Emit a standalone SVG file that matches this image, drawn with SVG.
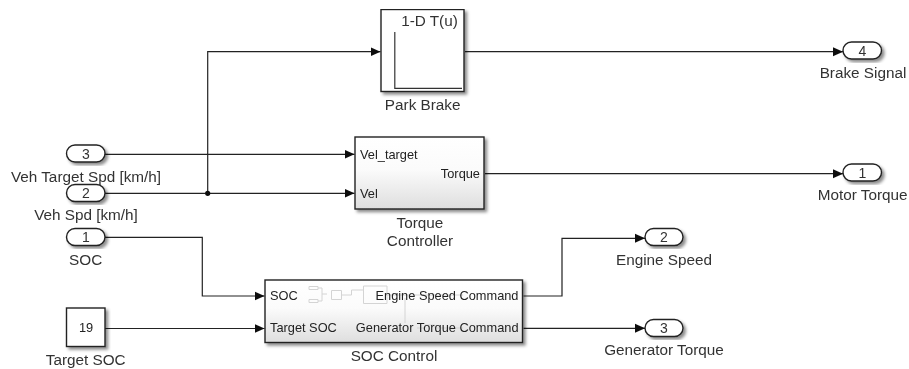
<svg xmlns="http://www.w3.org/2000/svg" width="909" height="369" viewBox="0 0 909 369">
<style>
.blk{stroke:#222;stroke-width:1.4;filter:url(#sh)}
.w{fill:#fff}
.lab{font-family:"Liberation Sans",Arial,sans-serif;font-size:15.3px;fill:#333;text-anchor:middle}
.num{font-family:"Liberation Sans",Arial,sans-serif;font-size:14px;fill:#333;text-anchor:middle}
.port{font-family:"Liberation Sans",Arial,sans-serif;font-size:12.8px;fill:#222}
.end{text-anchor:end}
.wire{fill:none;stroke:#222;stroke-width:1.2}
.thumb{fill:none;stroke:#d4d4d4;stroke-width:1}
</style>
<defs>
<linearGradient id="g" x1="0" y1="0" x2="0" y2="1"><stop offset="0" stop-color="#fff"/><stop offset="0.45" stop-color="#fbfbfb"/><stop offset="1" stop-color="#dedede"/></linearGradient>
<filter id="sh" x="-10%" y="-10%" width="125%" height="130%"><feDropShadow dx="2.5" dy="2.5" stdDeviation="1.6" flood-color="#000" flood-opacity="0.45"/></filter>
<filter id="soft" x="0" y="0" width="100%" height="100%"><feGaussianBlur stdDeviation="0.45"/></filter>
<marker id="a" markerUnits="userSpaceOnUse" markerWidth="11" markerHeight="10" refX="10" refY="5" orient="auto"><path d="M0 0.500L10 5L0 9.500Z" fill="#111"/></marker>
</defs>
<rect width="909" height="369" fill="#fff"/>
<g filter="url(#soft)">
<g id="connectors">
<path class="wire" d="M105 154.3H354.500" marker-end="url(#a)"/>
<path class="wire" d="M105 193.3H354.500" marker-end="url(#a)"/>
<path class="wire" d="M207.7 193.3V51.7H380.5" marker-end="url(#a)"/>
<circle cx="207.7" cy="193.3" r="2.6" fill="#111"/>
<path class="wire" d="M105 237.3H202.3V296H264.5" marker-end="url(#a)"/>
<path class="wire" d="M105 328.500H264.5" marker-end="url(#a)"/>
<path class="wire" d="M465 51.7H843" marker-end="url(#a)"/>
<path class="wire" d="M485 173.7H843" marker-end="url(#a)"/>
<path class="wire" d="M523.5 296H562V238.3H645" marker-end="url(#a)"/>
<path class="wire" d="M523.5 328.3H645" marker-end="url(#a)"/>
</g>
<g id="park-brake">
<rect class="blk w" x="381" y="9.500" width="83" height="82"/>
<path fill="none" stroke="#333" stroke-width="1.2" d="M394.800 32V88.300H462"/>
<text class="lab" x="429.500" y="25.500">1-D T(u)</text>
<text class="lab" x="422.700" y="110">Park Brake</text>
</g>
<g id="torque-controller">
<rect class="blk" fill="url(#g)" x="355" y="137" width="129" height="72"/>
<text class="port" x="360" y="158.500">Vel_target</text>
<text class="port" x="360" y="197.500">Vel</text>
<text class="port end" x="480" y="178">Torque</text>
<text class="lab" x="420" y="227.500">Torque</text>
<text class="lab" x="420" y="245.500">Controller</text>
</g>
<g id="soc-control">
<rect class="blk" fill="url(#g)" x="265" y="280" width="257.500" height="62.500"/>
<path class="thumb" d="M309 286.500h9v3h-9zM309 299.500h9v3h-9zM318 288h4v6h5M318 301h4v-7M331.500 290.500h10v9h-10zM341.500 295h10v-5h11.500M363.500 286h23.500v17.500h-23.500zM405 298v25M417 328h8v-3h10v3h28M387 295h76"/>
<text class="port" x="270" y="300">SOC</text>
<text class="port" x="270" y="332">Target SOC</text>
<text class="port end" x="518.500" y="300">Engine Speed Command</text>
<text class="port end" x="518.500" y="332">Generator Torque Command</text>
<text class="lab" x="394" y="361">SOC Control</text>
</g>
<g id="in-3">
<rect class="blk w" x="66.500" y="145" width="38.500" height="17" rx="8.500"/>
<text class="num" x="86" y="158.500">3</text>
<text class="lab" x="86" y="182">Veh Target Spd [km/h]</text>
</g>
<g id="in-2">
<rect class="blk w" x="66.500" y="184.500" width="38.500" height="17" rx="8.500"/>
<text class="num" x="86" y="198">2</text>
<text class="lab" x="86" y="220">Veh Spd [km/h]</text>
</g>
<g id="in-1">
<rect class="blk w" x="66.500" y="228.500" width="38.500" height="17" rx="8.500"/>
<text class="num" x="86" y="242">1</text>
<text class="lab" x="85.700" y="265">SOC</text>
</g>
<g id="target-soc">
<rect class="blk w" x="66.500" y="308" width="38.500" height="38.500"/>
<text class="port" x="86" y="332" text-anchor="middle">19</text>
<text class="lab" x="85.700" y="365">Target SOC</text>
</g>
<g id="out-4">
<rect class="blk w" x="843" y="42" width="38.500" height="17" rx="8.500"/>
<text class="num" x="862.500" y="55.500">4</text>
<text class="lab" x="863" y="78">Brake Signal</text>
</g>
<g id="out-1">
<rect class="blk w" x="843" y="164" width="38.500" height="17" rx="8.500"/>
<text class="num" x="862.500" y="177.500">1</text>
<text class="lab" x="862.700" y="200">Motor Torque</text>
</g>
<g id="out-2">
<rect class="blk w" x="645" y="228.500" width="38" height="17" rx="8.500"/>
<text class="num" x="664" y="242">2</text>
<text class="lab" x="664" y="265">Engine Speed</text>
</g>
<g id="out-3">
<rect class="blk w" x="645" y="319.500" width="38" height="17" rx="8.500"/>
<text class="num" x="664" y="333">3</text>
<text class="lab" x="664" y="355">Generator Torque</text>
</g>
</g>
</svg>
